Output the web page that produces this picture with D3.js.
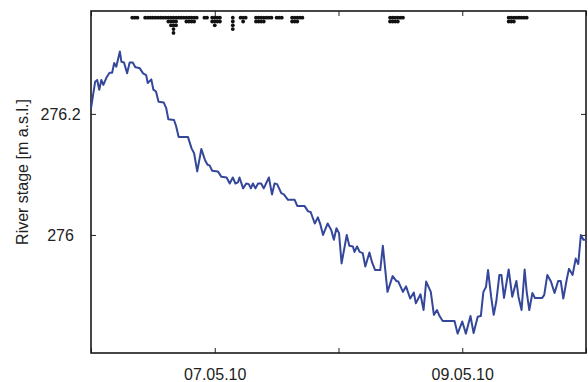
<!DOCTYPE html>
<html>
<head>
<meta charset="utf-8">
<script src="https://cdn.jsdelivr.net/npm/d3@7"></script>
<style>
  body { margin: 0; background: #fff; }
  text { font-family: "Liberation Sans", Arial, sans-serif; }
</style>
</head>
<body>
<div id="chart"></div>
<script>
// river stage, hours after 06.05.10 00:00
const stageHours = [0.0, 0.8, 1.2, 1.6, 2.0, 2.4, 3.0, 3.6, 4.1, 4.5, 4.9, 5.6, 5.9, 6.4, 7.0, 7.5, 8.1, 8.6, 9.4, 10.1,
  10.7, 11.0, 11.7, 12.1, 12.6, 13.1, 14.1, 14.6, 15.0, 16.1, 16.5, 17.0, 18.8, 19.5, 20.0, 20.6, 21.4, 22.1, 22.6, 23.0,
  23.5, 24.6, 25.3, 26.3, 26.9, 27.5, 28.0, 28.5, 28.8, 29.5, 30.1, 30.6, 31.0, 31.4, 31.9, 32.4, 33.0, 33.5, 34.5, 35.1,
  35.6, 36.1, 36.9, 37.4, 38.2, 39.5, 40.0, 41.4, 42.1, 42.6, 43.4, 44.0, 44.5, 45.0, 45.9, 46.6, 47.1, 47.6, 48.1, 48.6,
  49.6, 50.1, 50.8, 51.1, 51.6, 52.1, 52.7, 53.2, 54.0, 54.5, 55.1, 56.1, 56.6, 57.5, 58.5, 59.2, 59.6, 60.5, 61.1, 61.9,
  62.6, 63.0, 63.9, 64.5, 65.0, 65.9, 66.5, 67.1, 67.6, 68.2, 70.5, 71.1, 72.0, 72.7, 73.6, 74.2, 75.0, 75.6, 76.1, 76.6,
  77.0, 77.6, 78.1, 78.6, 79.2, 79.6, 80.1, 81.0, 81.7, 82.5, 82.9, 83.5, 84.1, 84.5, 85.0, 85.6, 86.1, 87.5, 87.9, 88.5,
  89.2, 89.9, 90.6, 91.1, 91.6, 92.3, 92.7, 93.4, 94.0, 94.5, 95.0, 95.5, 96.0];
const stageValues = [276.209, 276.253, 276.256, 276.240, 276.256, 276.248, 276.260, 276.268, 276.268, 276.284, 276.278, 276.303, 276.286, 276.285, 276.267, 276.285, 276.285, 276.277, 276.276, 276.267,
  276.264, 276.251, 276.257, 276.240, 276.237, 276.220, 276.219, 276.209, 276.191, 276.190, 276.180, 276.162, 276.162, 276.143, 276.135, 276.105, 276.142, 276.124, 276.116, 276.115,
  276.106, 276.105, 276.096, 276.095, 276.085, 276.095, 276.085, 276.087, 276.095, 276.077, 276.085, 276.084, 276.077, 276.085, 276.077, 276.085, 276.085, 276.077, 276.095, 276.067,
  276.085, 276.084, 276.069, 276.067, 276.058, 276.058, 276.048, 276.048, 276.039, 276.038, 276.019, 276.029, 276.017, 276.000, 276.019, 276.008, 275.992, 276.011, 276.003, 275.953,
  276.000, 275.982, 275.981, 275.972, 275.981, 275.972, 275.970, 275.948, 275.971, 275.955, 275.942, 275.942, 275.982, 275.906, 275.932, 275.924, 275.923, 275.906, 275.915, 275.895,
  275.905, 275.887, 275.902, 275.876, 275.923, 275.906, 275.868, 275.876, 275.866, 275.858, 275.858, 275.837, 275.857, 275.837, 275.866, 275.838, 275.865, 275.866, 275.906, 275.914,
  275.942, 275.898, 275.868, 275.890, 275.934, 275.934, 275.896, 275.943, 275.898, 275.924, 275.898, 275.876, 275.943, 275.906, 275.876, 275.904, 275.896, 275.896, 275.901, 275.934,
  275.923, 275.904, 275.924, 275.924, 275.895, 275.928, 275.944, 275.934, 275.961, 275.952, 276.000, 275.992, 275.992];

// events shown as stacked dots along the top
const eventHours = [8, 8.5, 9, 10.5, 11, 11.5, 12, 12.5, 13, 13.5, 14, 14.5, 15, 15.5, 16, 16.5, 17, 17.5, 18,
  18.5, 19, 19.5, 20, 20.5, 22, 22.5, 23.5, 24, 24.5, 25, 27.5, 29, 29.5, 30,
  32, 32.5, 33, 33.5, 34, 34.5, 35, 36, 36.5, 37, 39, 39.5, 40, 40.5, 41,
  58, 58.5, 59, 59.5, 60, 60.5, 81, 81.5, 82, 82.5, 83, 83.5, 84, 84.5];
const eventCounts = [1, 1, 1, 1, 1, 1, 1, 1, 1, 1, 1, 1, 2, 3, 5, 3, 1, 1, 1,
  2, 2, 2, 2, 1, 1, 1, 2, 3, 2, 2, 4, 1, 2, 1,
  2, 2, 2, 2, 1, 1, 1, 1, 1, 1, 2, 2, 2, 1, 1,
  2, 2, 2, 2, 1, 1, 2, 2, 2, 1, 1, 1, 1, 1];

const yTicks = [276, 276.2];
const xTickLabels = ["", "07.05.10", "", "09.05.10", ""];
const yLabel = "River stage [m a.s.l.]";

const W = 588, H = 382;
const margin = {top: 11, right: 2, bottom: 29, left: 91};
const width = W - margin.left - margin.right;
const height = H - margin.top - margin.bottom;

const start = new Date(2010, 4, 6);
const end = new Date(2010, 4, 10);
const toDate = h => new Date(start.getTime() + h * 3600e3);

const svg = d3.select("#chart").append("svg")
  .attr("width", W).attr("height", H);
const g = svg.append("g")
  .attr("transform", "translate(" + margin.left + "," + margin.top + ")");

const x = d3.scaleTime().domain([start, end]).range([0, width]);
const y = d3.scaleLinear().domain([275.805, 276.37]).range([height, 0]);
// stacking rows of the event dots, measured down from the frame top
const row = d3.scaleLinear().domain([0, 1]).range([6.7, 10.5]);

const dayTicks = d3.timeDay.range(start, d3.timeDay.offset(end, 1));
const tickFont = 16;

// bottom axis with labels
const xb = g.append("g").attr("transform", "translate(0," + height + ")")
  .call(d3.axisBottom(x).tickValues(dayTicks).tickSizeInner(-5).tickSizeOuter(0)
    .tickFormat((d, i) => xTickLabels[i]));
xb.selectAll("text").attr("y", 27).attr("dy", null)
  .style("font-size", tickFont + "px").attr("fill", "#222");
// top axis, ticks only
g.append("g")
  .call(d3.axisTop(x).tickValues(dayTicks).tickSizeInner(-5).tickSizeOuter(0).tickFormat(""));

const yl = g.append("g")
  .call(d3.axisLeft(y).tickValues(yTicks).tickSizeInner(-5).tickSizeOuter(0).tickFormat(d3.format("")));
yl.selectAll("text").attr("x", -30.5).attr("text-anchor", "middle").attr("dy", "0.32em")
  .style("font-size", tickFont + "px").attr("fill", "#222");
g.append("g").attr("transform", "translate(" + width + ",0)")
  .call(d3.axisRight(y).tickValues(yTicks).tickSizeInner(-5).tickSizeOuter(0).tickFormat(""));

g.selectAll(".domain").remove();
g.selectAll(".tick line").attr("stroke", "#222").attr("stroke-width", 1);

// frame
g.append("rect")
  .attr("width", width).attr("height", height)
  .attr("fill", "none").attr("stroke", "#1a1a1a").attr("stroke-width", 1.6);

// stage line
const stage = stageHours.map((h, i) => ({t: toDate(h), v: stageValues[i]}));
g.append("path")
  .datum(stage)
  .attr("fill", "none")
  .attr("stroke", "#34479b")
  .attr("stroke-width", 2)
  .attr("stroke-linejoin", "round")
  .attr("d", d3.line().x(d => x(d.t)).y(d => y(d.v)));

// event dots
const dots = [];
eventHours.forEach((h, i) => {
  for (let k = 0; k < eventCounts[i]; k++) dots.push({t: toDate(h), k: k});
});
g.append("g").selectAll("circle")
  .data(dots)
  .enter().append("circle")
  .attr("cx", d => x(d.t))
  .attr("cy", d => row(d.k))
  .attr("r", 1.9)
  .attr("fill", "#111");

// y axis title
svg.append("text")
  .attr("transform", "translate(27.5," + 172 + ") rotate(-90)")
  .attr("text-anchor", "middle")
  .style("font-size", "16px")
  .attr("fill", "#222")
  .text(yLabel);
</script>
</body>
</html>
